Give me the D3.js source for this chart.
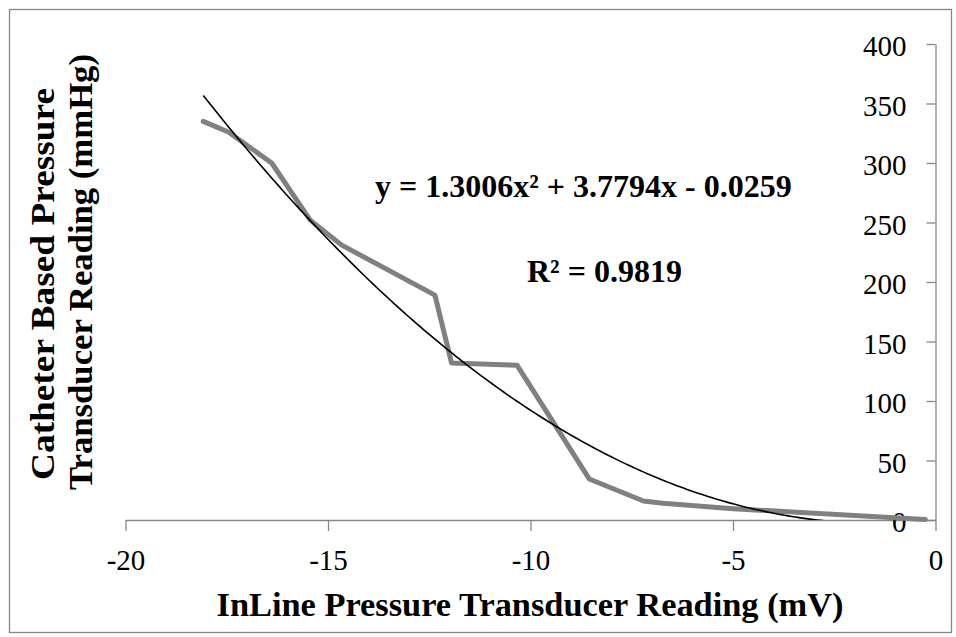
<!DOCTYPE html>
<html>
<head>
<meta charset="utf-8">
<script src="https://cdn.jsdelivr.net/npm/d3@7"></script>
<style>
  html, body { margin: 0; padding: 0; background: #fff; }
  svg { display: block; }
  text { font-family: "Liberation Serif", "Times New Roman", serif; fill: #000; }
</style>
</head>
<body>
<svg id="chart" width="956" height="637"></svg>
<script>
// ---- data ----
const inlineMv   = [-18.08, -17.46, -16.39, -15.44, -14.66, -12.36, -11.95, -10.33, -8.55, -7.21, -6.73, -5.0, -0.25];
const catheterMm = [335, 326, 300, 252, 231, 189, 132, 130, 34.5, 16, 14, 9.5, 0.5];
const xTicks = [-20, -15, -10, -5, 0];
const yTicks = [0, 50, 100, 150, 200, 250, 300, 350, 400];
const trendCoeffs = [1.3006, 3.7794, -0.0259];   // y = a x^2 + b x + c
const equationLabel = "y = 1.3006x\u00B2 + 3.7794x - 0.0259";
const r2Label = "R\u00B2 = 0.9819";
const xTitle = "InLine Pressure Transducer Reading (mV)";
const yTitleLines = ["Catheter Based Pressure", "Transducer Reading (mmHg)"];

const svg = d3.select("#chart");
const axisColor = "#868686";

const x = d3.scaleLinear().domain([-20, 0]).range([125.5, 935.5]);
const y = d3.scaleLinear().domain([0, 400]).range([520, 44]);

// outer border
svg.append("rect").attr("x", 9.5).attr("y", 9.5).attr("width", 942).attr("height", 623)
  .attr("fill", "none").attr("stroke", axisColor).attr("stroke-width", 1.3);

// clip for the trendline (plot area)
svg.append("clipPath").attr("id", "plotClip").append("rect")
  .attr("x", x(-20)).attr("y", y(400) - 5).attr("width", x(0) - x(-20)).attr("height", y(0) - y(400) + 5);

// x axis at y = 0
const xAxis = d3.axisBottom(x).tickValues(xTicks).tickSize(11).tickSizeOuter(0).tickPadding(18)
  .tickFormat(d3.format("d"));
const gx = svg.append("g").attr("transform", `translate(0,${y(0)})`).call(xAxis);
gx.selectAll("path, line").attr("stroke", axisColor).attr("stroke-width", 1.3);
gx.selectAll("text").attr("font-size", 29).attr("font-family", "Liberation Serif").attr("fill", "#000")
  .text(d => d < 0 ? "-" + Math.abs(d) : d);

// y axis at x = 0
const yAxis = d3.axisLeft(y).tickValues(yTicks).tickSize(9).tickSizeOuter(0).tickPadding(20);
const gy = svg.append("g").attr("transform", `translate(${x(0)},0)`).call(yAxis);
gy.selectAll("path, line").attr("stroke", axisColor).attr("stroke-width", 1.3);
gy.selectAll("text").attr("font-size", 29).attr("font-family", "Liberation Serif").attr("fill", "#000")
  .attr("dy", "0.4em");

// data line
const pts = inlineMv.map((v, i) => [v, catheterMm[i]]);
svg.append("path").datum(pts)
  .attr("d", d3.line().x(d => x(d[0])).y(d => y(d[1])))
  .attr("fill", "none").attr("stroke", "#808080").attr("stroke-width", 5)
  .attr("stroke-linejoin", "round").attr("stroke-linecap", "round");

// polynomial trendline from the displayed equation, over the data range
const xMin = d3.min(inlineMv), xMax = d3.max(inlineMv);
const trendPts = d3.range(0, 201).map(i => {
  const xv = xMin + (xMax - xMin) * i / 200;
  return [xv, trendCoeffs[0] * xv * xv + trendCoeffs[1] * xv + trendCoeffs[2]];
});
svg.append("path").datum(trendPts)
  .attr("clip-path", "url(#plotClip)")
  .attr("d", d3.line().x(d => x(d[0])).y(d => y(d[1])))
  .attr("fill", "none").attr("stroke", "#000").attr("stroke-width", 1.6);

// equation labels
svg.append("text").attr("x", 375).attr("y", 197).attr("font-size", 32).attr("font-weight", "bold")
  .text(equationLabel);
svg.append("text").attr("x", 527).attr("y", 282).attr("font-size", 32).attr("font-weight", "bold")
  .text(r2Label);

// axis titles
svg.append("text").attr("x", 530).attr("y", 616).attr("text-anchor", "middle")
  .attr("font-size", 33).attr("font-weight", "bold")
  .attr("textLength", 627).attr("lengthAdjust", "spacingAndGlyphs")
  .text(xTitle);

const yTitleBase = [53.5, 92];
const yTitleCenter = [284, 272];
const yTitleLen = [392, 436];
yTitleLines.forEach((t, i) => {
  svg.append("text")
    .attr("transform", `translate(${yTitleBase[i]},${yTitleCenter[i]}) rotate(-90)`)
    .attr("text-anchor", "middle").attr("font-size", 33).attr("font-weight", "bold")
    .attr("textLength", yTitleLen[i]).attr("lengthAdjust", "spacingAndGlyphs")
    .text(t);
});
</script>
</body>
</html>
